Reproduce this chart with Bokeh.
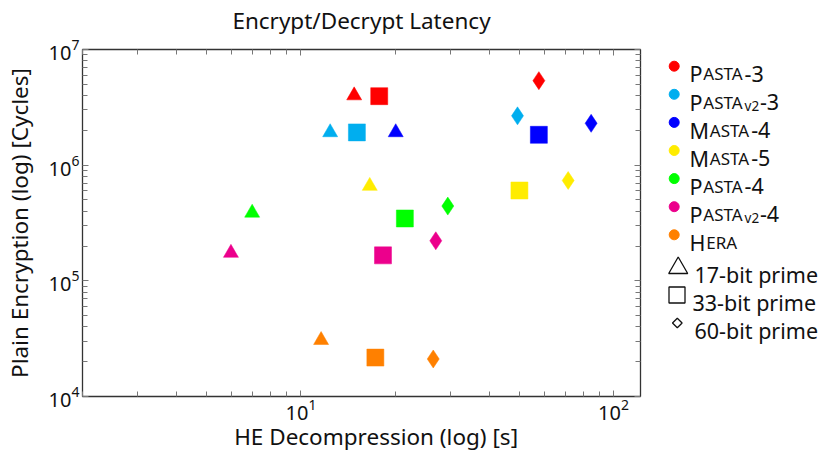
from bokeh.plotting import figure
from bokeh.models import Range1d, LogAxis, FixedTicker, LogTickFormatter, ColumnDataSource
from bokeh.layouts import row
from bokeh.embed import file_html
from bokeh.resources import INLINE
from bokeh.core.properties import value

FONT = "Noto Sans"

# ---------------- data ----------------
title = "Encrypt/Decrypt Latency"
x_label = "HE Decompression (log) [s]"
y_label = "Plain Encryption (log) [Cycles]"
schemes = ["Pasta-3", "Pasta_v2-3", "Masta-4", "Masta-5", "Pasta-4", "Pasta_v2-4", "Hera"]
colors = ["#FF0000", "#00AEEF", "#0000FF", "#FFEC00", "#00FF00", "#EC008C", "#FF8000"]
primes = ["17-bit prime", "33-bit prime", "60-bit prime"]
markers = ["triangle", "square", "diamond"]

# HE decompression time [s]
he_17 = [14.8, 12.4, 20.1, 16.6, 6.98, 5.97, 11.6]
he_33 = [17.8, 15.1, 57.7, 50.0, 21.5, 18.3, 17.3]
he_60 = [57.7, 49.3, 84.8, 71.6, 29.5, 27.0, 26.5]
# plain encryption [cycles]
enc_17 = [4.0e6, 1.92e6, 1.92e6, 6.6e5, 3.87e5, 1.74e5, 3.07e4]
enc_33 = [3.95e6, 1.92e6, 1.83e6, 6.04e5, 3.46e5, 1.66e5, 2.17e4]
enc_60 = [5.38e6, 2.67e6, 2.30e6, 7.37e5, 4.43e5, 2.22e5, 2.11e4]

x_major = [10, 100]
y_major = [1e4, 1e5, 1e6, 1e7]

# ---------------- layout constants ----------------
FL, FT, FW, FH = 81, 49, 558, 347   # frame left/top/width/height (page px)
BR = 12
BB = 457 - FT - FH

# ---------------- main plot ----------------
p = figure(x_axis_type="log", y_axis_type="log",
           x_range=Range1d(2, 122), y_range=Range1d(1e4, 1e7),
           frame_width=FW, frame_height=FH,
           min_border_left=FL, min_border_right=BR, min_border_top=FT, min_border_bottom=BB,
           output_backend="svg", toolbar_location=None)
p.grid.visible = False
p.outline_line_color = "#333333"
p.outline_line_width = 1.3
p.background_fill_color = "white"
p.border_fill_color = "white"

x_minor = [k * d for d in (1, 10) for k in range(2, 10)]
y_minor = [k * d for d in (1e4, 1e5, 1e6) for k in range(2, 10)]


def style_axis(ax, ticks, minor, show):
    ax.ticker = FixedTicker(ticks=ticks, minor_ticks=minor)
    ax.axis_line_color = None
    ax.major_tick_line_color = "#777777"
    ax.minor_tick_line_color = "#777777"
    ax.major_tick_in = 6
    ax.major_tick_out = 0
    ax.minor_tick_in = 5
    ax.minor_tick_out = 0
    ax.major_label_text_font = FONT
    ax.major_label_text_color = "#111111"
    ax.axis_label_text_font = FONT
    ax.axis_label_text_font_size = "22.5px"
    ax.axis_label_text_font_style = "normal"
    ax.axis_label_text_color = "#111111"
    if show:
        ax.formatter = LogTickFormatter()
        ax.major_label_text_font_size = "20px"
        ax.major_label_standoff = 3
        ax.axis_label_standoff = 11
    else:
        ax.major_label_text_font_size = "1px"
        ax.major_label_text_alpha = 0
        ax.major_label_standoff = 0


style_axis(p.xaxis[0], x_major, x_minor, True)
style_axis(p.yaxis[0], y_major, y_minor, True)
p.yaxis[0].axis_label = y_label
# leading no-break spaces nudge the centred label right, as in the reference
p.xaxis[0].axis_label = "\u00a0" * 5 + x_label
p.xaxis[0].major_label_standoff = 2
p.xaxis[0].axis_label_standoff = -2

top_ax = LogAxis()
style_axis(top_ax, x_major, x_minor, False)
top_ax.axis_label = title
top_ax.axis_label_standoff = 14
p.add_layout(top_ax, "above")
right_ax = LogAxis()
style_axis(right_ax, y_major, y_minor, False)
p.add_layout(right_ax, "right")

sizes = {"triangle": 15, "square": 17, "diamond": 18}
for mk, xs, ys in zip(markers, [he_17, he_33, he_60], [enc_17, enc_33, enc_60]):
    src = ColumnDataSource(dict(x=xs, y=ys, c=colors))
    p.scatter("x", "y", source=src, marker=mk, size=sizes[mk],
              fill_color="c", line_color="c", line_width=0.5)

# ---------------- legend panel ----------------
main_w = FL + FW + BR
LW = 824 - main_w - 1
X0 = main_w          # page x of legend panel left edge
leg = figure(width=LW, height=457, x_range=Range1d(X0, X0 + LW), y_range=Range1d(FT + FH, FT),
             min_border=0, output_backend="svg", toolbar_location=None,
             x_axis_location=None, y_axis_location=None)
leg.grid.visible = False
leg.outline_line_color = None
leg.background_fill_color = "white"
leg.border_fill_color = "white"

adv = {'P': .603, 'A': .639, 'S': .551, 'T': .556, 'M': .907, 'E': .556, 'R': .616,
       'H': .742, '-': .322, '3': .572, '4': .572, '5': .572, 'v': .5, '2': .572}
BIG, SMALL, SUB = 21.5, 17, 13.5
HALF_CAP = 7.7


def wid(s, fs):
    return sum(adv.get(ch, .6) for ch in s) * fs


row_y0, row_dy = 65.7, 28.1
circ_x, text_x = 672.7, 688
tx, ty, tt, ts = [], [], [], []
cx, cy = [], []
for i, name in enumerate(schemes):
    yc = row_y0 + i * row_dy
    base = yc + HALF_CAP
    cx.append(circ_x)
    cy.append(yc)
    word, _, suffix = name.partition("-")
    word, _, sub = word.partition("_")
    x = text_x
    pieces = [(word[0], BIG, base), (word[1:].upper(), SMALL, base)]
    if sub:
        pieces.append((sub, SUB, base + 4))
    if suffix:
        pieces.append(("-" + suffix, BIG, base))
    for s, fs, b in pieces:
        tx.append(x)
        ty.append(b)
        tt.append(s)
        ts.append(f"{fs}px")
        x += wid(s, fs) + 0.8

leg.scatter(cx, cy, marker="circle", size=10, fill_color=colors, line_color=colors)

shape_y = [266.5, 294.5, 322.5]
leg.scatter([676.7], [shape_y[0] + 1], marker="triangle", size=19,
            fill_color=None, line_color="#111111", line_width=1.3)
leg.scatter([675.5], [shape_y[1]], marker="square", size=16,
            fill_color=None, line_color="#111111", line_width=1.3)
leg.scatter([675.8], [shape_y[2]], marker="square", size=6.8, angle=0.785398,
            fill_color=None, line_color="#111111", line_width=1.3)
shape_tx = [693, 691, 693]
for lab, yy, xx in zip(primes, shape_y, shape_tx):
    tx.append(xx)
    ty.append(yy + HALF_CAP)
    tt.append(lab)
    ts.append(f"{BIG}px")

tsrc = ColumnDataSource(dict(x=tx, y=ty, text=tt, size=ts))
leg.text("x", "y", text="text", source=tsrc, text_font=value(FONT), text_font_size="size",
         text_baseline="alphabetic", text_align="left", text_color="#111111")

layout = row(p, leg)
open("out.html", "w").write(file_html(layout, INLINE))
